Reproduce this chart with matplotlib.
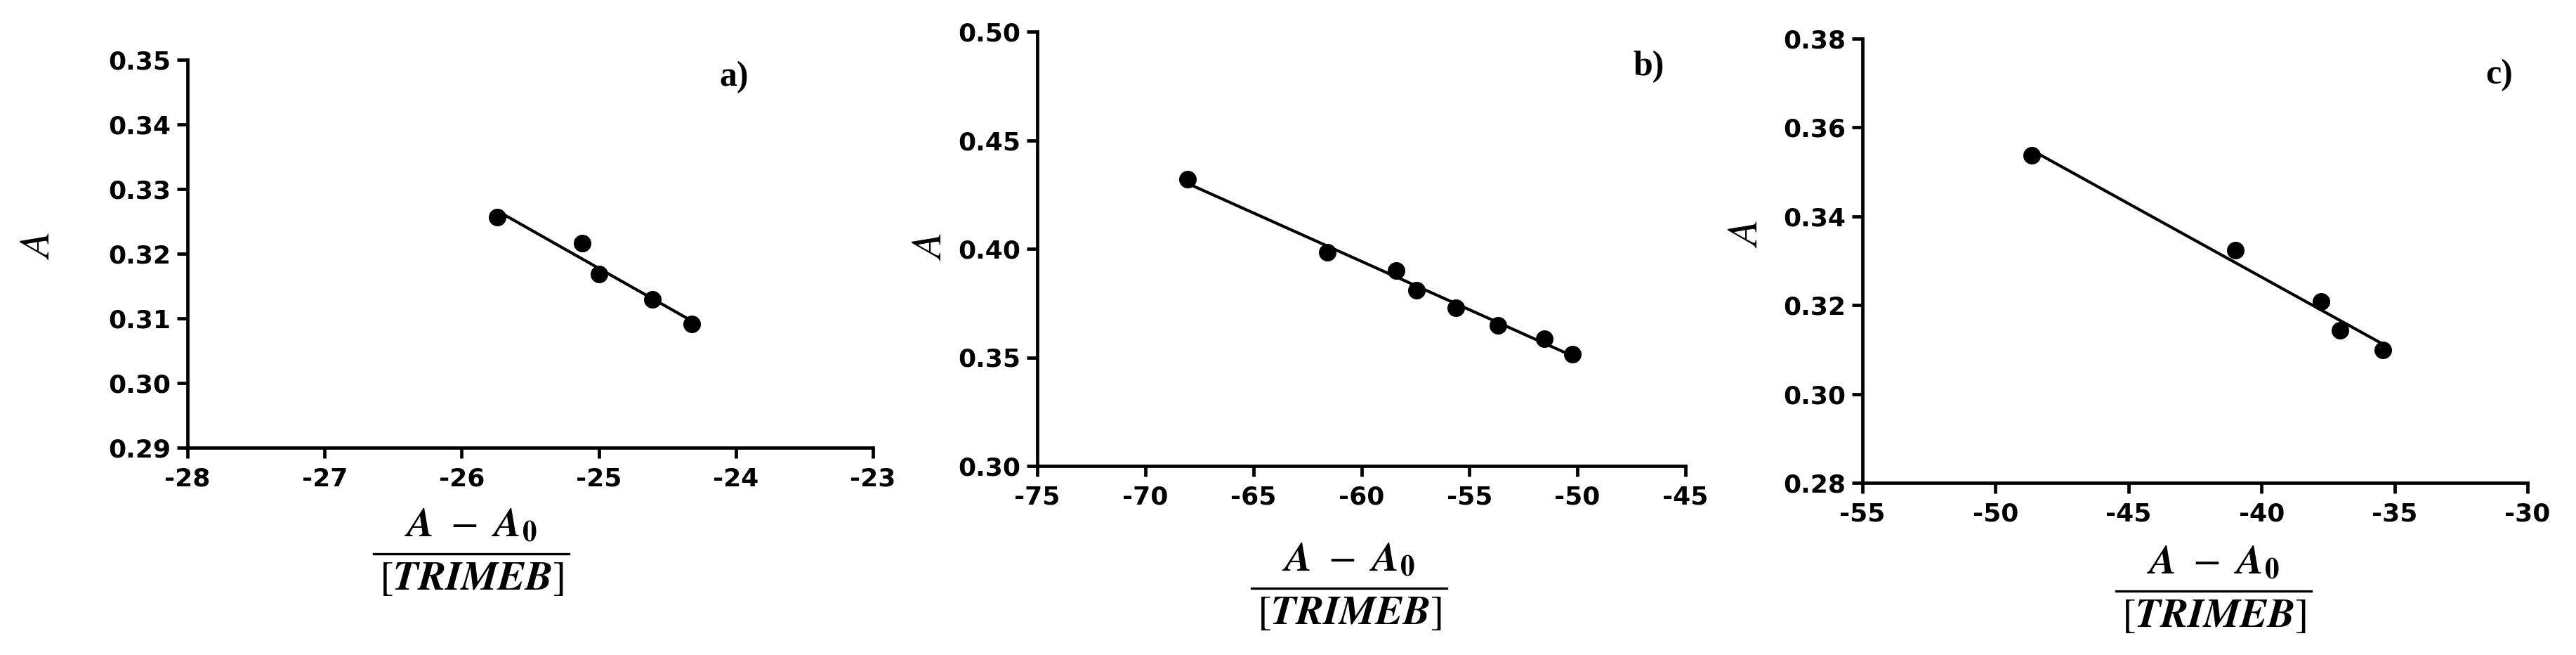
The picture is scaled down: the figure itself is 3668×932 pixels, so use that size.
import numpy as np
import matplotlib.pyplot as plt
from matplotlib.lines import Line2D

plt.rcParams['mathtext.fontset'] = 'stix'
plt.rcParams['axes.unicode_minus'] = False
plt.rcParams['font.family'] = 'DejaVu Sans'

# panel a
a_x = [-25.74, -25.12, -25.00, -24.61, -24.32]
a_y = [0.3257, 0.3216, 0.3169, 0.3129, 0.3091]
a_xticks = [-28, -27, -26, -25, -24, -23]
a_yticks = [0.29, 0.30, 0.31, 0.32, 0.33, 0.34, 0.35]

# panel b
b_x = [-68.06, -61.58, -58.39, -57.44, -55.62, -53.68, -51.53, -50.23]
b_y = [0.4320, 0.3985, 0.3900, 0.3810, 0.3727, 0.3648, 0.3587, 0.3515]
b_xticks = [-75, -70, -65, -60, -55, -50, -45]
b_yticks = [0.30, 0.35, 0.40, 0.45, 0.50]

# panel c
c_x = [-48.65, -40.97, -37.77, -37.06, -35.43]
c_y = [0.3537, 0.3323, 0.3209, 0.3144, 0.3099]
c_xticks = [-55, -50, -45, -40, -35, -30]
c_yticks = [0.28, 0.30, 0.32, 0.34, 0.36, 0.38]

panel_names = ['a)', 'b)', 'c)']
num_text = r'$\mathbfit{A}\ -\ \mathbfit{A}_{\mathbf{0}}$'
den_text = r'$[\mathbfit{TRIMEB}]$'

W, H = 3668, 932
fig = plt.figure(figsize=(W / 100, H / 100), dpi=100)


def px_rect(x0, x1, ytop, ybot):
    return [x0 / W, 1 - ybot / H, (x1 - x0) / W, (ybot - ytop) / H]


def fx(x):
    return x / W


def fy(y):
    return 1 - y / H


# pixel boxes of the three plot areas
boxes = [(267, 1243, 85, 637), (1477, 2400, 45, 663), (2652, 3599, 55, 687)]
title_pos = [(1045, 110), (2348, 95), (3559, 107)]
ylab_pos = [(54, 350), (1324, 351), (2485, 333)]
# fraction bar centre and half width
xlab_pos = [(671, 788), (1921, 837), (3152, 841)]
bar_half = 139

data = [(a_x, a_y, a_xticks, a_yticks),
        (b_x, b_y, b_xticks, b_yticks),
        (c_x, c_y, c_xticks, c_yticks)]

for i, (xs, ys, xt, yt) in enumerate(data):
    ax = fig.add_axes(px_rect(*boxes[i]))
    xs = np.array(xs)
    ys = np.array(ys)
    k, b = np.polyfit(xs, ys, 1)
    xl = np.array([xs.min(), xs.max()])
    ax.plot(xl, k * xl + b, color='black', lw=3, zorder=2)
    ax.plot(xs, ys, 'o', color='black', markersize=17, zorder=3, clip_on=False)

    ax.set_xlim(xt[0], xt[-1])
    ax.set_ylim(yt[0], yt[-1])
    ax.set_xticks(xt)
    ax.set_yticks(yt)
    ax.set_xticklabels([str(v) for v in xt])
    ax.set_yticklabels(['%.2f' % v for v in yt])
    for s in ['top', 'right']:
        ax.spines[s].set_visible(False)
    for s in ['left', 'bottom']:
        ax.spines[s].set_linewidth(3.4)
    ax.tick_params(direction='out', length=11, width=3.4, labelsize=26)
    ax.tick_params(axis='x', pad=9)
    ax.tick_params(axis='y', pad=6)
    for lab in ax.get_xticklabels() + ax.get_yticklabels():
        lab.set_fontweight('bold')

    tx, ty = title_pos[i]
    fig.text(fx(tx), fy(ty), panel_names[i], family='Liberation Serif',
             fontweight='bold', fontsize=36, ha='center', va='center')
    lx, ly = ylab_pos[i]
    fig.text(fx(lx), fy(ly), r'$\mathit{A}$', fontsize=44, rotation=90,
             ha='center', va='center')

    # x label drawn as a stacked fraction
    bx, by = xlab_pos[i]
    fig.text(fx(bx), fy(by - 12), num_text, fontsize=42,
             ha='center', va='bottom')
    fig.text(fx(bx), fy(by + 6), den_text, fontsize=42,
             ha='center', va='top')
    fig.add_artist(Line2D([fx(bx - bar_half), fx(bx + bar_half)],
                          [fy(by), fy(by)], color='black', lw=2.4))

fig.savefig('out.png', dpi=100)
